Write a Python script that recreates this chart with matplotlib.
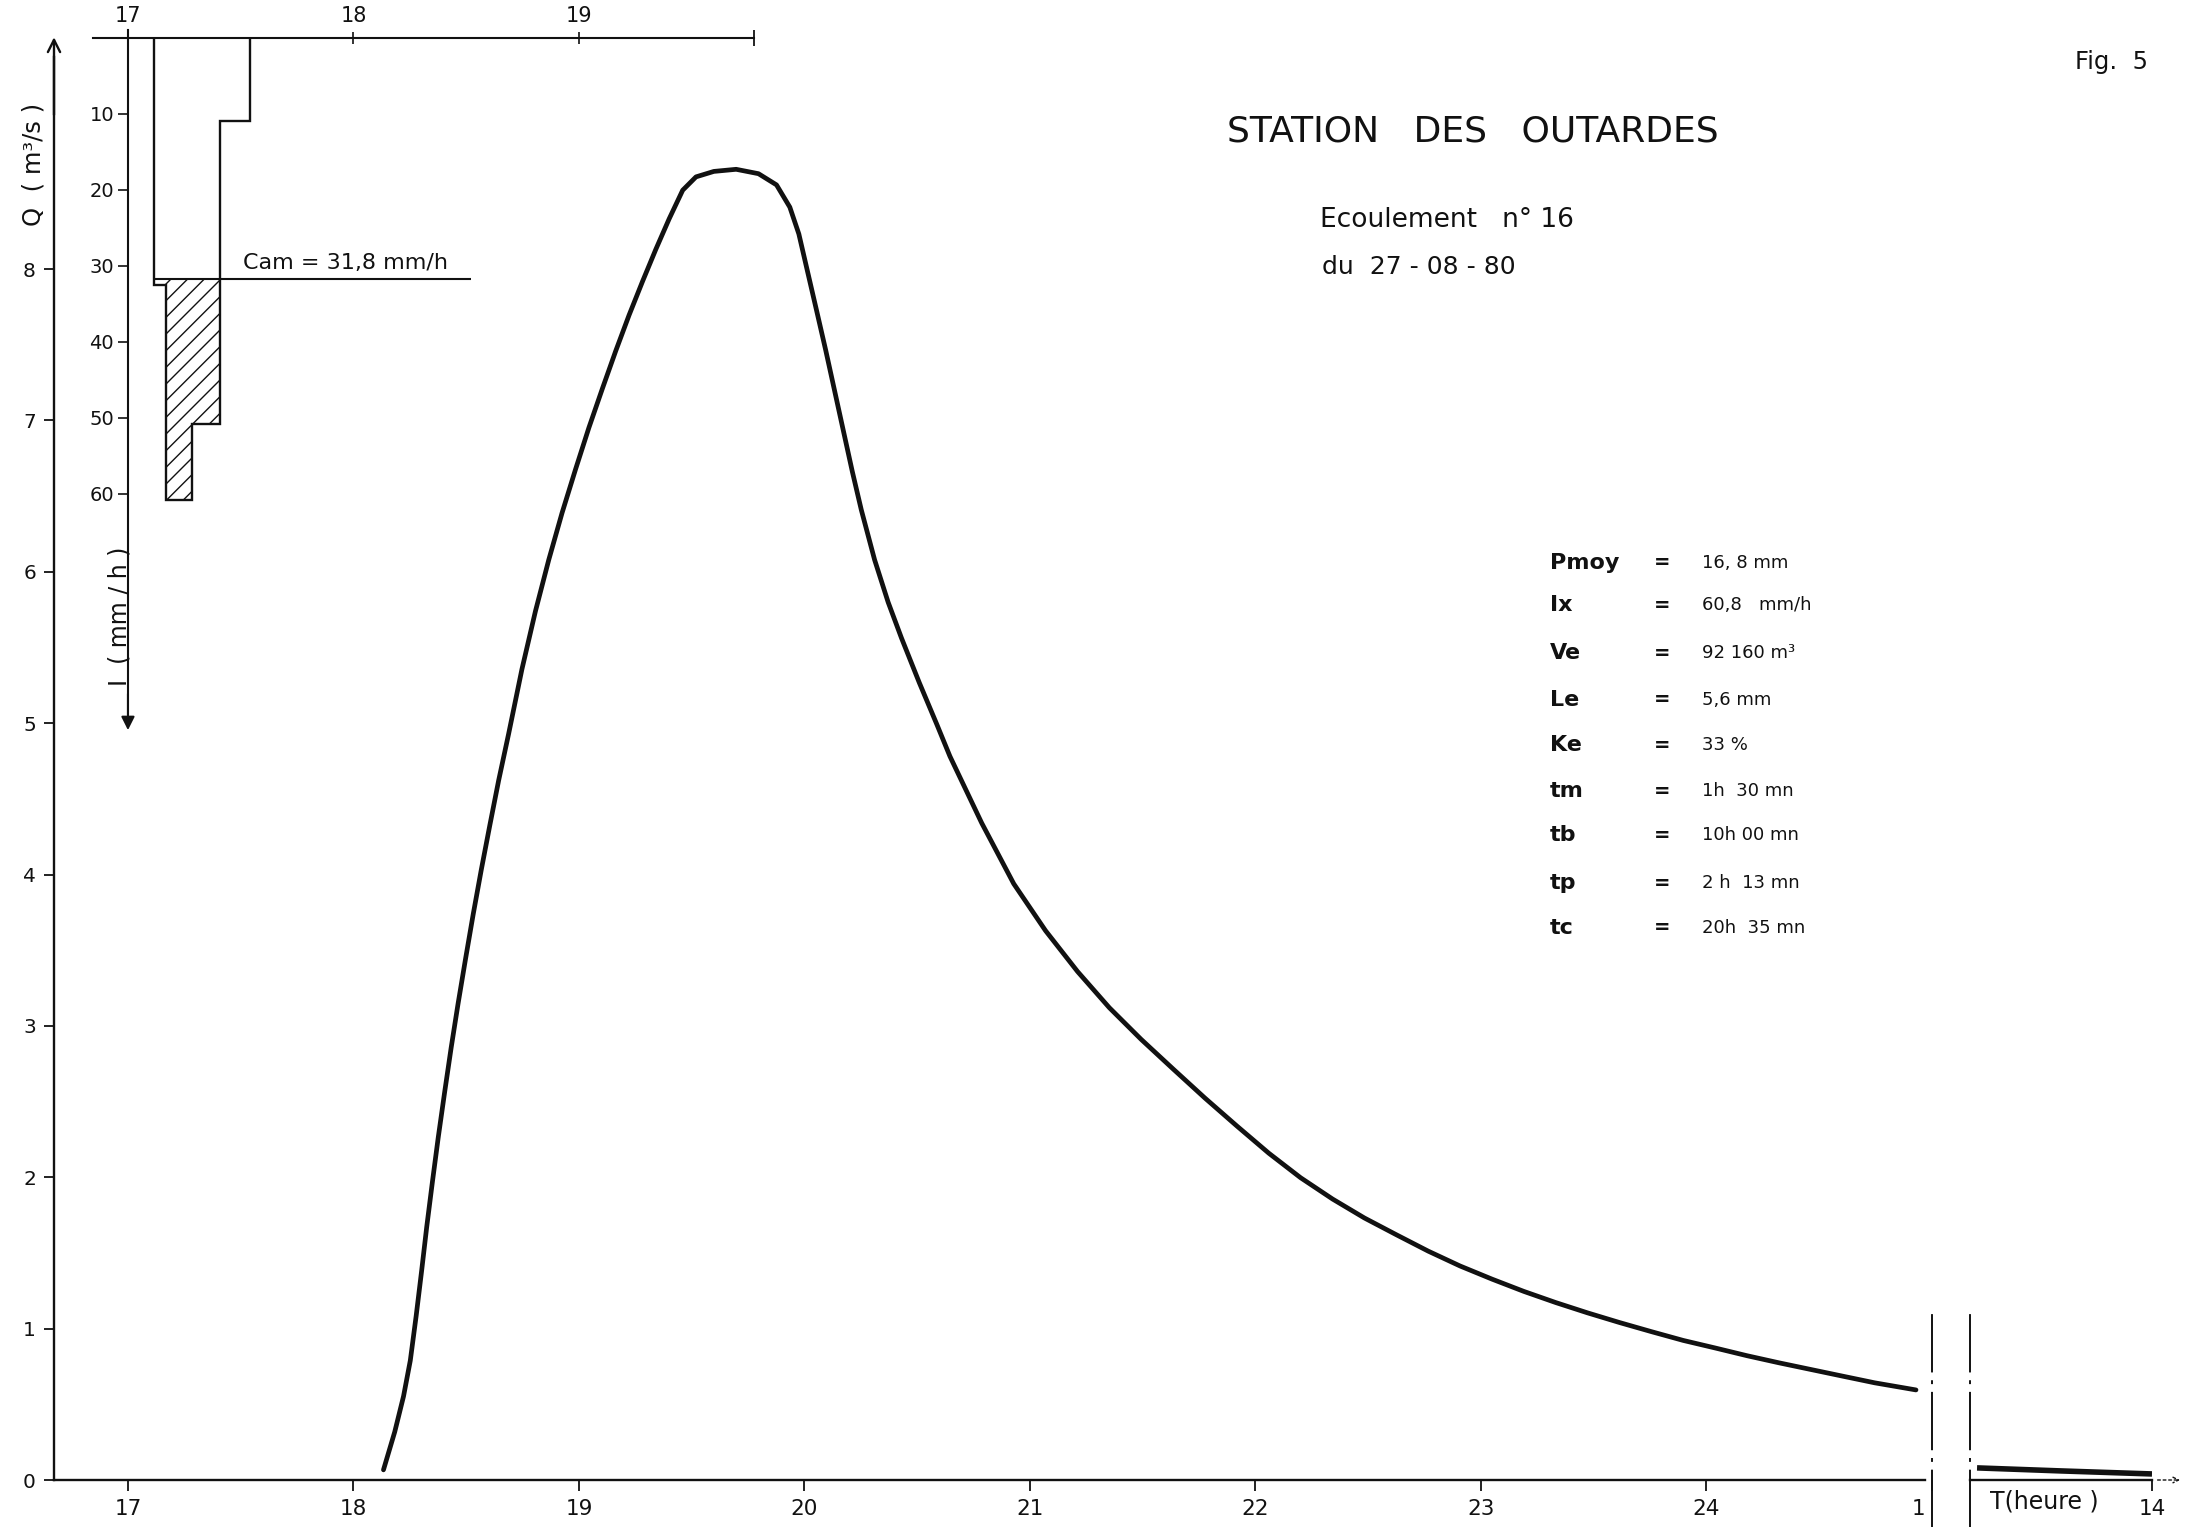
import numpy as np
import matplotlib
matplotlib.use("Agg")
import matplotlib.pyplot as plt

W, H = 2194, 1527
DPI = 100
INK = "#111111"

# Hydrograph of 27-08-80, time in decimal hours (25 = 1 h of the next day)
t_hours = [18.133, 18.183, 18.222, 18.252, 18.278, 18.302, 18.325, 18.35,
           18.376, 18.404, 18.433, 18.464, 18.497, 18.531, 18.567, 18.605,
           18.644, 18.688, 18.747, 18.807, 18.866, 18.925, 18.985, 19.044,
           19.104, 19.163, 19.222, 19.282, 19.341, 19.40, 19.46, 19.519,
           19.598, 19.697, 19.796, 19.876, 19.935, 19.975, 20.014, 20.054,
           20.094, 20.133, 20.173, 20.212, 20.252, 20.311, 20.371, 20.43,
           20.509, 20.588, 20.645, 20.786, 20.928, 21.069, 21.211, 21.352,
           21.493, 21.635, 21.776, 21.918, 22.059, 22.20, 22.342, 22.483,
           22.625, 22.766, 22.907, 23.049, 23.19, 23.332, 23.473, 23.615,
           23.756, 23.897, 24.039, 24.18, 24.322, 24.463, 24.604, 24.746,
           24.929]
q_flow = [0.067, 0.318, 0.553, 0.789, 1.084, 1.379, 1.674, 1.969,
          2.264, 2.559, 2.854, 3.148, 3.443, 3.738, 4.033, 4.328,
          4.623, 4.929, 5.356, 5.740, 6.079, 6.389, 6.678, 6.952,
          7.211, 7.459, 7.695, 7.919, 8.131, 8.332, 8.521, 8.609,
          8.645, 8.659, 8.63, 8.556, 8.409, 8.232, 7.981, 7.724,
          7.465, 7.200, 6.928, 6.663, 6.409, 6.079, 5.799, 5.563,
          5.268, 4.988, 4.781, 4.34, 3.939, 3.629, 3.359, 3.120,
          2.911, 2.715, 2.523, 2.338, 2.159, 1.997, 1.856, 1.731,
          1.620, 1.512, 1.414, 1.327, 1.246, 1.172, 1.104, 1.040,
          0.980, 0.922, 0.872, 0.821, 0.774, 0.730, 0.686, 0.642,
          0.595]

# tail of the recession after the axis break (hours of the next day)
t_tail = [1.53, 7.5, 14.0]
q_tail = [0.08, 0.06, 0.04]

# rainfall intensity blocks (mm/h) and the absorption capacity
rain_edges = [17.114, 17.169, 17.284, 17.409, 17.54]
rain_int = [32.6, 60.8, 50.8, 11.0]
cam = 31.8

q_ticks = [0, 1, 2, 3, 4, 5, 6, 7, 8]
hour_ticks = [17, 18, 19, 20, 21, 22, 23, 24, 25]
hour_labels = ["17", "18", "19", "20", "21", "22", "23", "24", "1 "]
rain_ticks = [10, 20, 30, 40, 50, 60]
top_ticks = [17, 18, 19]
top_labels = ["17", "18", "19"]

param_names = ["Pmoy", "Ix", "Ve", "Le", "Ke", "tm", "tb", "tp", "tc"]
param_values = ["16, 8 mm", "60,8   mm/h", "92 160 m³", "5,6 mm", "33 %",
                "1h  30 mn", "10h 00 mn", "2 h  13 mn", "20h  35 mn"]


def fx(px):
    return px / W


def fy(py):
    return 1 - py / H


T0, T1 = 16.672, 25.0
x_left, x_right = 54, 1932
y_base, y_top = 1480, 42

fig = plt.figure(figsize=(W / DPI, H / DPI), dpi=DPI)
fig.patch.set_facecolor("white")

# main discharge axes
ax = fig.add_axes([fx(x_left), fy(y_base), (x_right - x_left) / W,
                   (y_base - y_top) / H])
ax.set_xlim(T0, T1)
ax.set_ylim(0, 9.5)
ax.patch.set_alpha(0)
for s in ("top", "right"):
    ax.spines[s].set_visible(False)
ax.spines["left"].set_bounds(0, 9.4)
ax.spines["bottom"].set_bounds(T0, 24.97)
for s in ("left", "bottom"):
    ax.spines[s].set_linewidth(1.7)
    ax.spines[s].set_color(INK)
ax.set_xticks(hour_ticks, hour_labels)
ax.get_xticklabels()[-1].set_horizontalalignment("right")
ax.set_yticks(q_ticks)
ax.tick_params(axis="x", direction="out", length=8, width=1.3, pad=6,
               labelsize=15.5, colors=INK)
ax.tick_params(axis="y", direction="out", length=7, width=1.3, pad=6,
               labelsize=14.5, colors=INK)
ax.annotate("", xy=(T0, 9.55), xytext=(T0, 9.0), annotation_clip=False,
            arrowprops=dict(arrowstyle="->", color=INK, lw=1.7,
                            mutation_scale=22))

ax.plot(t_hours, q_flow, color=INK, lw=3.4, solid_capstyle="round",
        solid_joinstyle="round")

# axis break
brk = (0, (30, 4, 2, 4))
ax.plot([25, 25], [-0.32, 1.12], color=INK, lw=1.4, linestyle=brk,
        clip_on=False)

# compressed tail after the break
tail_left, tail_right = 1969.6, 2152
axb = fig.add_axes([fx(tail_left), fy(y_base), (tail_right - tail_left) / W,
                    (y_base - y_top) / H])
axb.set_xlim(1, 14)
axb.set_ylim(0, 9.5)
axb.patch.set_alpha(0)
for s in ("top", "right", "left"):
    axb.spines[s].set_visible(False)
axb.spines["bottom"].set_linewidth(1.7)
axb.spines["bottom"].set_color(INK)
axb.set_yticks([])
axb.set_xticks([14], ["14"])
axb.tick_params(axis="x", direction="out", length=8, width=1.3, pad=6,
                labelsize=15.5, colors=INK)
axb.plot([1, 1], [-0.32, 1.12], color=INK, lw=1.4, linestyle=brk,
         clip_on=False)
axb.plot(t_tail, q_tail, color=INK, lw=4.0, solid_capstyle="butt")
axb.annotate("", xy=(16.2, 0), xytext=(14.2, 0), annotation_clip=False,
             arrowprops=dict(arrowstyle="->", color=INK, lw=1.0,
                             linestyle=(0, (2, 2))))
fig.text(fx(1990), fy(1501), "T(heure )", fontsize=17, color=INK,
         ha="left", va="center")

# rainfall axes, hanging from the top
r_top, r_bottom = 37.5, 37.5 + 91 * 7.6
axr = fig.add_axes([fx(x_left), fy(r_bottom), (x_right - x_left) / W,
                    (r_bottom - r_top) / H])
axr.set_xlim(T0, T1)
axr.set_ylim(91, 0)
axr.patch.set_visible(False)
for s in ("bottom", "right"):
    axr.spines[s].set_visible(False)
axr.spines["left"].set_position(("data", 17))
axr.spines["left"].set_bounds(-1.0, 89.0)
axr.spines["top"].set_bounds(16.845, 19.776)
for s in ("left", "top"):
    axr.spines[s].set_linewidth(1.5)
    axr.spines[s].set_color(INK)
axr.xaxis.tick_top()
axr.set_xticks(top_ticks, top_labels)
axr.set_xticks([19.776], minor=True)
axr.tick_params(axis="x", which="major", direction="inout", length=9,
                width=1.2, pad=4, labelsize=15, colors=INK)
axr.tick_params(axis="x", which="minor", direction="inout", length=12,
                width=1.2)
axr.set_yticks(rain_ticks)
axr.tick_params(axis="y", direction="out", length=7, width=1.2, pad=3,
                labelsize=14, colors=INK)
axr.annotate("", xy=(17, 91.5), xytext=(17, 86), annotation_clip=False,
             arrowprops=dict(arrowstyle="-|>", color=INK, lw=1.5,
                             mutation_scale=20))

axr.stairs(np.maximum(rain_int, cam), rain_edges, baseline=cam, fill=True,
           facecolor="none", edgecolor=INK, hatch="//", linewidth=0)
axr.stairs(rain_int, rain_edges, baseline=0, color=INK, lw=1.7)
axr.hlines(cam, rain_edges[0], 18.52, color=INK, lw=1.5)
axr.text(17.51, cam - 0.8, "Cam = 31,8 mm/h", fontsize=16, color=INK,
         ha="left", va="bottom")

# axis titles
fig.text(fx(33), fy(164), "Q  ( m³/s )", rotation=90, fontsize=17.5,
         color=INK, ha="center", va="center")
fig.text(fx(120), fy(616), "I  ( mm / h )", rotation=90, fontsize=17,
         color=INK, ha="center", va="center")

# headings
fig.text(fx(2075), fy(62), "Fig.  5", fontsize=17.5, color=INK,
         ha="left", va="center")
fig.text(fx(1227), fy(131), "STATION   DES   OUTARDES", fontsize=26,
         color=INK, ha="left", va="center")
fig.text(fx(1320), fy(220), "Ecoulement   n° 16", fontsize=19, color=INK,
         ha="left", va="center")
fig.text(fx(1322), fy(267), "du  27 - 08 - 80", fontsize=18, color=INK,
         ha="left", va="center")

# event characteristics
row_y = [563, 605, 653, 700, 745, 791, 835, 883, 928]
for name, val, py in zip(param_names, param_values, row_y):
    fig.text(fx(1550), fy(py), name, fontsize=16, fontweight="bold",
             color=INK, ha="left", va="center")
    fig.text(fx(1662), fy(py), "=", fontsize=14, fontweight="bold",
             color=INK, ha="center", va="center")
    fig.text(fx(1702), fy(py), val, fontsize=13, color=INK,
             ha="left", va="center")

fig.savefig("out.png", dpi=DPI, facecolor="white")
